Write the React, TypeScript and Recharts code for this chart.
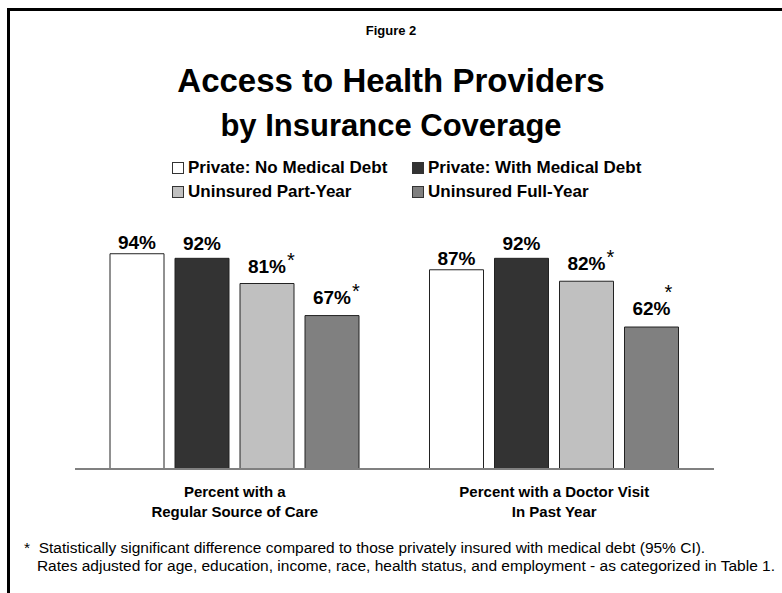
import React from "react";
import { BarChart, Bar, XAxis, YAxis, LabelList } from "recharts";

const categories = [
  "Percent with a\nRegular Source of Care",
  "Percent with a Doctor Visit\nIn Past Year",
];
const seriesNames = [
  "Private: No Medical Debt",
  "Private: With Medical Debt",
  "Uninsured Part-Year",
  "Uninsured Full-Year",
];
const privateNoDebt = [94, 87];
const privateWithDebt = [92, 92];
const uninsuredPartYear = [81, 82];
const uninsuredFullYear = [67, 62];
// asterisk = significantly different from privately insured with medical debt
const partYearSignificant = [true, true];
const fullYearSignificant = [true, true];

const keys = ["noDebt", "withDebt", "partYear", "fullYear"];
const colors = ["#ffffff", "#333333", "#c0c0c0", "#808080"];
// gap between value label and bar top, per series
const labelGap = [5, 8, 11, 12];

const data = categories.map((name, i) => ({
  name,
  noDebt: privateNoDebt[i],
  withDebt: privateWithDebt[i],
  partYear: uninsuredPartYear[i],
  fullYear: uninsuredFullYear[i],
}));

const FONT = "'Liberation Sans', Arial, Helvetica, sans-serif";

const makeLabel =
  (gap: number, flags?: boolean[], raised?: boolean[]) => (props: any) => {
    const { x, y, width, value, index } = props;
    const cx = Number(x) + Number(width) / 2;
    const base = Number(y) - gap;
    const up = raised && raised[index];
    return (
      <g>
        <text
          x={cx}
          y={base}
          textAnchor="middle"
          fontFamily={FONT}
          fontSize={19}
          fontWeight="bold"
          fill="#000"
        >
          {`${value}%`}
        </text>
        {flags && flags[index] && (
          <text
            x={up ? cx + 17 : cx + 24}
            y={up ? base - 16 : base - 6}
            textAnchor="middle"
            fontFamily={FONT}
            fontSize={20}
            fill="#000"
          >
            *
          </text>
        )}
      </g>
    );
  };

const CategoryTick = (props: any) => {
  const { x, y, payload } = props;
  const lines = String(payload.value).split("\n");
  return (
    <text
      x={x}
      y={y}
      textAnchor="middle"
      fontFamily={FONT}
      fontSize={15}
      fontWeight="bold"
      fill="#000"
    >
      {lines.map((l, i) => (
        <tspan key={i} x={x} dy={20}>
          {l}
        </tspan>
      ))}
    </text>
  );
};

const abs = (top: number, extra: React.CSSProperties = {}): React.CSSProperties => ({
  position: "absolute",
  left: 0,
  width: 782,
  top,
  textAlign: "center",
  fontFamily: FONT,
  fontWeight: "bold",
  color: "#000",
  whiteSpace: "nowrap",
  ...extra,
});

export default function App() {
  return (
    <div
      style={{
        position: "fixed",
        left: 0,
        top: 0,
        width: 782,
        height: 593,
        overflow: "hidden",
        background: "#fff",
      }}
    >
      <div
        style={{
          position: "absolute",
          left: 7,
          top: 8,
          width: 900,
          height: 800,
          border: "3px solid #000",
        }}
      />
      <div style={abs(23, { fontSize: 13, lineHeight: "16px" })}>Figure 2</div>
      <div style={abs(61, { fontSize: 33, lineHeight: "40px" })}>
        Access to Health Providers
      </div>
      <div style={abs(108, { fontSize: 31, lineHeight: "36px" })}>
        by Insurance Coverage
      </div>

      {/* legend */}
      <div style={{ position: "absolute", left: 172, top: 158, fontFamily: FONT }}>
        {seriesNames.map((n, i) => (
          <div
            key={n}
            style={{
              position: "absolute",
              left: i % 2 === 0 ? 0 : 240,
              top: Math.floor(i / 2) * 24,
              display: "flex",
              alignItems: "center",
              whiteSpace: "nowrap",
              fontSize: 17,
              fontWeight: "bold",
              lineHeight: "20px",
            }}
          >
            <span
              style={{
                display: "inline-block",
                width: 10,
                height: 10,
                background: colors[i],
                border: "1px solid #333",
                marginRight: 4,
              }}
            />
            {n}
          </div>
        ))}
      </div>

      <div style={{ position: "absolute", left: 0, top: 0 }}>
        <BarChart
          width={782}
          height={593}
          data={data}
          margin={{ top: 240, right: 68, bottom: 84, left: 75 }}
          barSize={54}
          barGap={11}
        >
          <XAxis
            dataKey="name"
            height={40}
            axisLine={{ stroke: "#808080", strokeWidth: 2 }}
            tickLine={false}
            tick={<CategoryTick />}
            interval={0}
          />
          <YAxis hide domain={[0, 100]} />
          {keys.map((k, i) => (
            <Bar
              key={k}
              dataKey={k}
              fill={colors[i]}
              stroke="#222"
              strokeWidth={1}
              isAnimationActive={false}
            >
              <LabelList
                dataKey={k}
                content={makeLabel(
                  labelGap[i],
                  i === 2 ? partYearSignificant : i === 3 ? fullYearSignificant : undefined,
                  i === 3 ? [false, true] : undefined
                )}
              />
            </Bar>
          ))}
        </BarChart>
      </div>

      <div
        style={{
          position: "absolute",
          left: 24,
          top: 539,
          fontFamily: FONT,
          fontSize: 15.5,
          lineHeight: "18px",
          whiteSpace: "pre",
          color: "#000",
        }}
      >
        {"*  Statistically significant difference compared to those privately insured with medical debt (95% CI).\n   Rates adjusted for age, education, income, race, health status, and employment - as categorized in Table 1."}
      </div>
    </div>
  );
}
